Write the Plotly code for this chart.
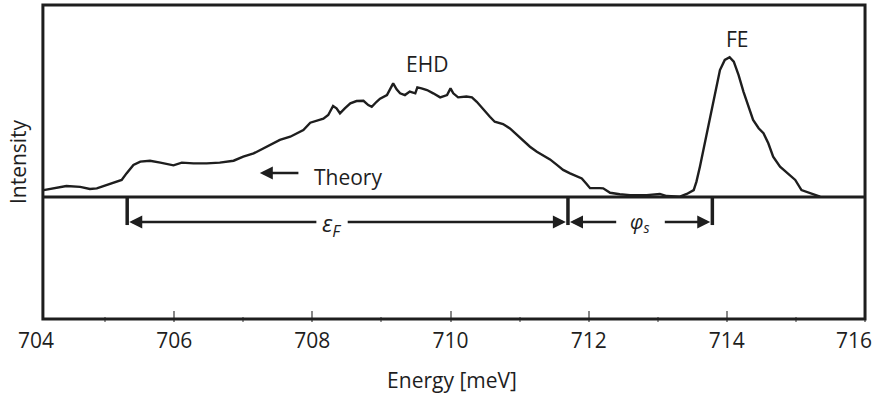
import plotly.graph_objects as go

# Spectrum (energy in meV, intensity in arbitrary units; baseline = 0)
energy = [704.11, 704.25, 704.44, 704.64, 704.78, 704.88, 705.02, 705.17, 705.24, 705.31,
          705.41, 705.51, 705.65, 705.80, 705.99, 706.11, 706.28, 706.47, 706.66, 706.86,
          707.00, 707.15, 707.34, 707.48, 707.53, 707.68, 707.77, 707.87, 707.97, 708.06,
          708.16, 708.23, 708.30, 708.35, 708.40, 708.47, 708.55, 708.64, 708.74, 708.81,
          708.86, 708.93, 708.98, 709.08, 709.17, 709.22, 709.27, 709.34, 709.41, 709.49,
          709.52, 709.58, 709.66, 709.75, 709.85, 709.95, 710.00, 710.04, 710.11, 710.23,
          710.31, 710.38, 710.48, 710.57, 710.64, 710.76, 710.86, 710.96, 711.05, 711.15,
          711.25, 711.34, 711.44, 711.54, 711.63, 711.73, 711.83, 711.90, 711.97, 712.02,
          712.16, 712.21, 712.31, 712.45, 712.60, 712.84, 713.03, 713.13, 713.32, 713.42,
          713.52, 713.56, 713.61, 713.69, 713.76, 713.83, 713.90, 713.97, 714.04, 714.10,
          714.17, 714.24, 714.31, 714.38, 714.46, 714.53, 714.60, 714.67, 714.77, 714.89,
          714.99, 715.08, 715.20, 715.30, 715.35]
intensity = [0.036, 0.045, 0.057, 0.053, 0.042, 0.045, 0.063, 0.080, 0.089, 0.123,
             0.167, 0.184, 0.189, 0.179, 0.165, 0.179, 0.175, 0.175, 0.179, 0.189,
             0.210, 0.227, 0.262, 0.288, 0.297, 0.314, 0.332, 0.349, 0.387, 0.397,
             0.408, 0.427, 0.474, 0.462, 0.436, 0.462, 0.488, 0.500, 0.501, 0.479,
             0.470, 0.496, 0.512, 0.531, 0.592, 0.561, 0.540, 0.531, 0.549, 0.540,
             0.571, 0.566, 0.557, 0.540, 0.519, 0.531, 0.566, 0.540, 0.519, 0.523,
             0.519, 0.496, 0.453, 0.418, 0.392, 0.380, 0.357, 0.323, 0.297, 0.262,
             0.236, 0.219, 0.196, 0.167, 0.141, 0.123, 0.109, 0.097, 0.068, 0.046,
             0.046, 0.045, 0.022, 0.014, 0.010, 0.010, 0.016, 0.005, 0.002, 0.016,
             0.036, 0.080, 0.158, 0.297, 0.436, 0.557, 0.661, 0.714, 0.728, 0.705,
             0.635, 0.549, 0.470, 0.401, 0.358, 0.332, 0.280, 0.210, 0.158, 0.123,
             0.089, 0.036, 0.022, 0.010, 0.002]

tick_vals = [704, 706, 708, 710, 712, 714, 716]
# the last label sits slightly left of its tick in the reference (padded with nbsp)
tick_text = ["704", "706", "708", "710", "712", "714", "716\u00a0\u00a0\u00a0\u00a0"]

# Marker positions (energies) of the dimension lines
e_left = 705.32     # start of eps_F
e_mid = 711.70      # end of eps_F / start of phi_s
e_right = 713.79    # end of phi_s
frame_left = 704.10
frame_right = 716.0
y_top, y_bot = 1.0, -0.635
y_dim = -0.13
y_bar = -0.146

INK = "#1e1e1e"
FONT = "Open Sans"

fig = go.Figure()
fig.add_trace(go.Scatter(x=energy, y=intensity, mode="lines",
                         line=dict(color=INK, width=2.4), hoverinfo="skip"))

shapes = [
    dict(type="rect", xref="x", yref="y", x0=frame_left, x1=frame_right, y0=y_bot, y1=y_top,
         line=dict(color=INK, width=3), layer="above"),
    dict(type="line", xref="x", yref="y", x0=frame_left, x1=frame_right, y0=0, y1=0,
         line=dict(color=INK, width=3)),
]
for e in (e_left, e_mid, e_right):
    shapes.append(dict(type="line", xref="x", yref="y", x0=e, x1=e, y0=0, y1=y_bar,
                       line=dict(color=INK, width=3.5)))

def arrow(head_x, tail_x, y):
    return dict(x=head_x, y=y, ax=tail_x, ay=y, xref="x", yref="y", axref="x", ayref="y",
                text="", showarrow=True, arrowhead=2, arrowsize=1.0, arrowwidth=2.6,
                arrowcolor=INK, standoff=0, startstandoff=0)

annotations = [
    arrow(e_left + 0.03, 708.08, y_dim),
    arrow(e_mid - 0.03, 708.49, y_dim),
    arrow(e_mid + 0.03, 712.42, y_dim),
    arrow(e_right - 0.03, 713.08, y_dim),
    arrow(707.24, 707.82, 0.125),
    dict(x=708.27, y=y_dim - 0.012, xref="x", yref="y", text="<i>ε<sub>F</sub></i>",
         showarrow=False, font=dict(family=FONT, size=23, color=INK)),
    dict(x=712.74, y=y_dim - 0.005, xref="x", yref="y", text="<i>φ<sub>s</sub></i>",
         showarrow=False, font=dict(family=FONT, size=20, color=INK)),
    dict(x=708.0, y=0.104, xref="x", yref="y", text="Theory", xanchor="left",
         showarrow=False, font=dict(family=FONT, size=21, color=INK)),
    dict(x=709.66, y=0.693, xref="x", yref="y", text="EHD",
         showarrow=False, font=dict(family=FONT, size=21, color=INK)),
    dict(x=714.16, y=0.823, xref="x", yref="y", text="FE",
         showarrow=False, font=dict(family=FONT, size=21, color=INK)),
]

fig.update_layout(
    width=875, height=394,
    margin=dict(l=36, r=7, t=2, b=72),
    paper_bgcolor="white", plot_bgcolor="white",
    showlegend=False,
    font=dict(family=FONT, size=21, color=INK),
    shapes=shapes, annotations=annotations,
    xaxis=dict(range=[704, 716.043], tickvals=tick_vals, ticktext=tick_text,
               automargin=False,
               ticks="inside", ticklen=11, tickwidth=1.5, tickcolor="#888",
               minor=dict(ticks="inside", ticklen=5, tickwidth=1.5, tickcolor="#999", dtick=1,
                          tick0=704, showgrid=False),
               showgrid=False, zeroline=False, showline=False,
               ticklabelstandoff=4, ticklabeloverflow="allow",
               tickfont=dict(family=FONT, size=21, color=INK),
               title=dict(text="Energy [meV]", font=dict(family=FONT, size=21, color=INK),
                          standoff=24)),
    yaxis=dict(range=[-0.651, 1.0156], showticklabels=False, ticks="",
               automargin=False,
               showgrid=False, zeroline=False, showline=False,
               title=dict(text="Intensity", font=dict(family=FONT, size=21, color=INK),
                          standoff=2)),
)

fig.write_html("out.html", post_script="document.body.style.margin='0';",
               config={"displayModeBar": False})
